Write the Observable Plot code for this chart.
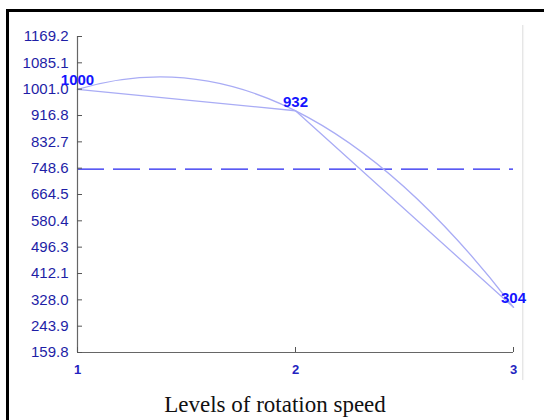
<!DOCTYPE html>
<html>
<head>
<meta charset="utf-8">
<script src="https://cdn.jsdelivr.net/npm/d3@7"></script>
<script src="https://cdn.jsdelivr.net/npm/@observablehq/plot@0.6"></script>
<style>
  html, body { margin: 0; padding: 0; background: #fff; }
  body { width: 544px; height: 420px; position: relative; overflow: hidden; font-family: "Liberation Sans", Arial, sans-serif; }
  #frame { position: absolute; left: 6px; top: 9px; width: 600px; height: 500px; border-left: 3px solid #000; border-top: 3px solid #000; }
  #edge { position: absolute; left: 522px; top: 25px; width: 1px; height: 355px; background: #e6e6e6; box-shadow: 1px 0 1px #f2f2f2; }
  #chart { position: absolute; left: 0; top: 0; }
  #title { position: absolute; left: 0; width: 550px; top: 392px; text-align: center; font-family: "Liberation Serif", "Times New Roman", serif; font-size: 23px; color: #111; }
</style>
</head>
<body>
<div id="frame"></div>
<div id="edge"></div>
<div id="chart"></div>
<div id="title">Levels of rotation speed</div>
<script>
// ---- data ----
const levels = [1, 2, 3];
const values = [1000, 932, 304];
const meanValue = 745.3;
const yTicks = [159.8, 243.9, 328.0, 412.1, 496.3, 580.4, 664.5, 748.6, 832.7, 916.8, 1001.0, 1085.1, 1169.2];
const xTicks = [1, 2, 3];
const xTitle = "Levels of rotation speed";

const points = levels.map((x, i) => ({x, y: values[i]}));

// Custom curve: parabola through three points (quadratic Bézier), else straight segments
function parabolaCurve(context) {
  let pts = [];
  return {
    areaStart() {}, areaEnd() {},
    lineStart() { pts = []; },
    point(x, y) { pts.push([x, y]); },
    lineEnd() {
      if (!pts.length) return;
      context.moveTo(pts[0][0], pts[0][1]);
      if (pts.length === 3) {
        const [p1, p2, p3] = pts;
        const cx = 2 * p2[0] - (p1[0] + p3[0]) / 2;
        const cy = 2 * p2[1] - (p1[1] + p3[1]) / 2;
        context.quadraticCurveTo(cx, cy, p3[0], p3[1]);
      } else {
        for (const p of pts.slice(1)) context.lineTo(p[0], p[1]);
      }
    }
  };
}

const lineColor = "#a9acf5";

const plot = Plot.plot({
  width: 544,
  height: 380,
  marginLeft: 77,
  marginRight: 31,
  marginTop: 36,
  marginBottom: 28,
  style: {background: "transparent", fontFamily: "Liberation Sans, Arial, sans-serif"},
  x: {domain: [1, 3], ticks: xTicks},
  y: {domain: [yTicks[0], yTicks[yTicks.length - 1]], ticks: yTicks},
  marks: [
    Plot.ruleY([meanValue], {stroke: "#2424f0", strokeWidth: 1.2, strokeDasharray: "27,9"}),
    Plot.line(points, {x: "x", y: "y", stroke: lineColor, strokeWidth: 1.3}),
    Plot.line(points, {x: "x", y: "y", stroke: lineColor, strokeWidth: 1.3, curve: parabolaCurve}),
    Plot.ruleX([levels[0]], {stroke: "#666", strokeWidth: 1.2}),
    Plot.ruleY([yTicks[0]], {stroke: "#666", strokeWidth: 1.2}),
    Plot.axisY({ticks: yTicks, tickSize: -5, tickPadding: 14, tickFormat: d => d.toFixed(1),
      fontSize: 15, fill: "#1e1ea6", stroke: "#555", label: null}),
    Plot.axisX({ticks: xTicks, tickSize: -5, tickPadding: 17, tickFormat: d => String(d),
      fontSize: 13, fontWeight: "bold", fill: "#2323c0", stroke: "#555", label: null}),
    Plot.text(points, {x: "x", y: "y", text: d => String(d.y), dy: -9,
      fontSize: 15, fontWeight: "bold", fill: "#1414ff"})
  ]
});
document.getElementById("chart").appendChild(plot);
</script>
</body>
</html>
